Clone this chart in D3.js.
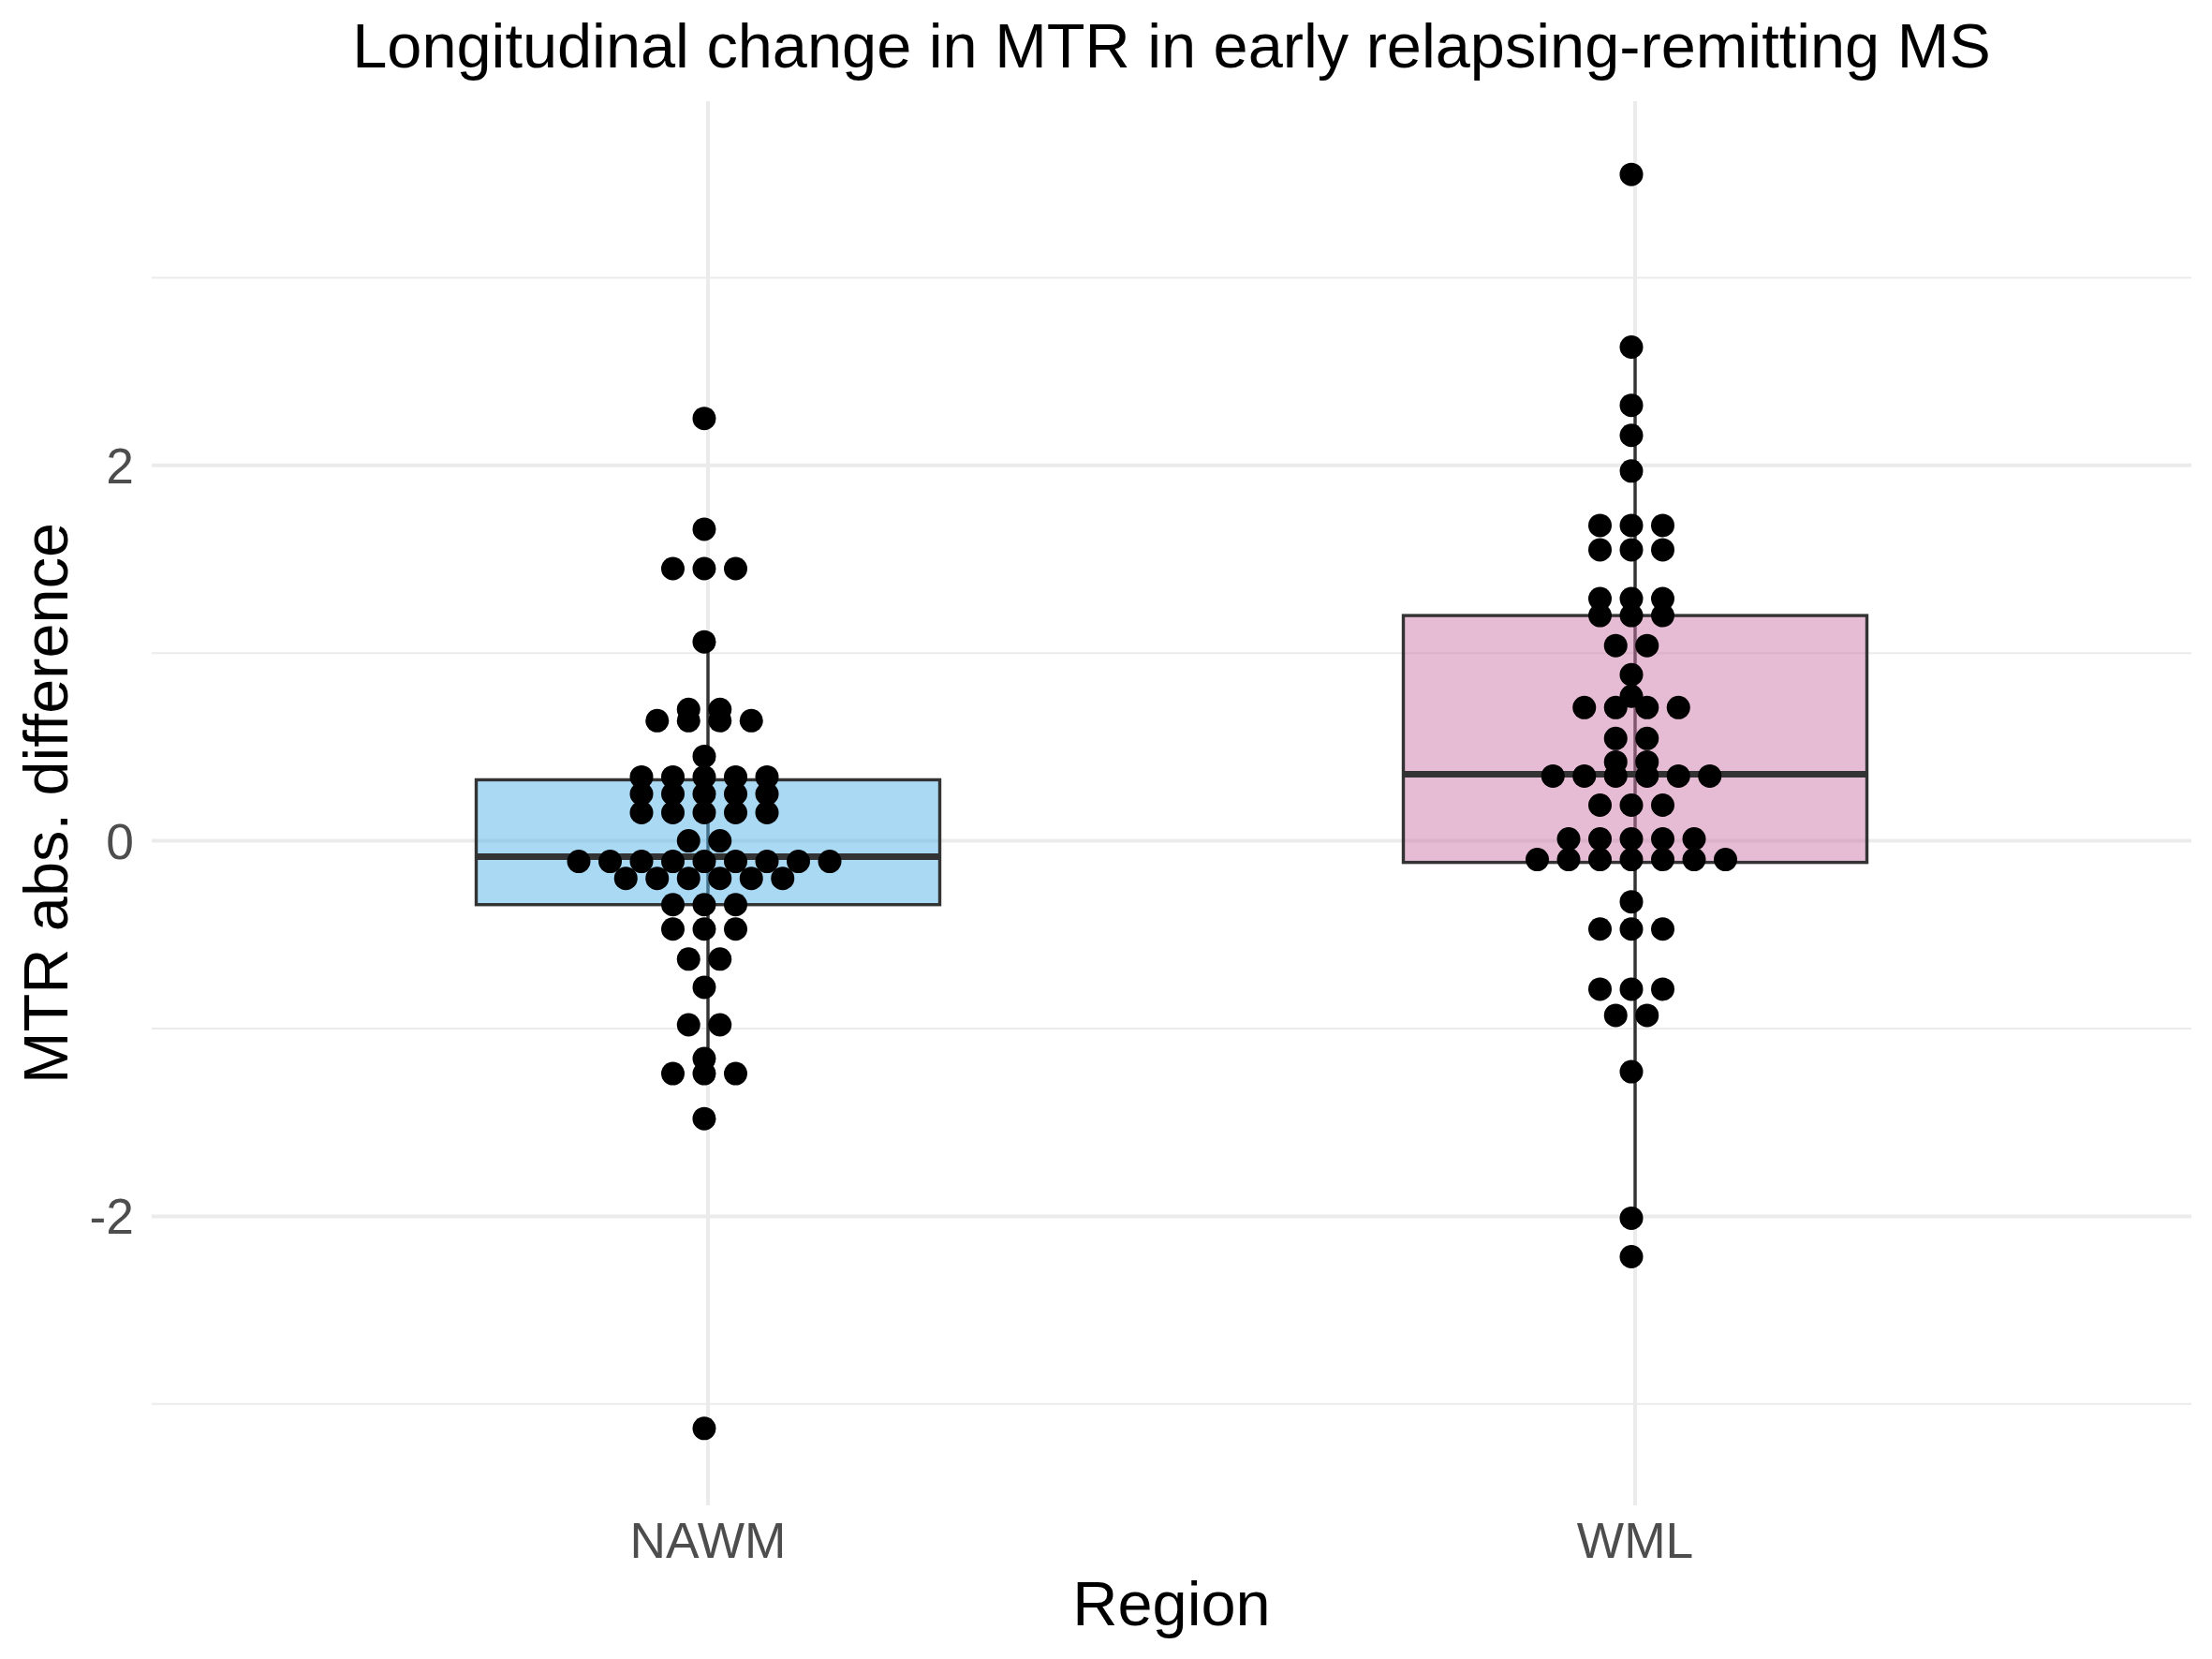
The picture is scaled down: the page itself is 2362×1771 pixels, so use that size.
<!DOCTYPE html>
<html>
<head>
<meta charset="utf-8">
<script src="https://cdn.jsdelivr.net/npm/d3@7"></script>
<style>
  body { margin: 0; background: #fff; }
  text { font-family: "Liberation Sans", Arial, sans-serif; }
</style>
</head>
<body>
<div id="chart"></div>
<script>
const WIDTH = 2362;
const HEIGHT = 1771;

// data (dotplot bin centres, one entry per dot)
const regions = ["NAWM", "WML"];
const nawmValues = [
  2.25, 1.66, 1.45, 1.45, 1.45, 1.06, 0.70, 0.70, 0.64, 0.64, 0.64, 0.64, 0.45,
  0.34, 0.34, 0.34, 0.34, 0.34, 0.25, 0.25, 0.25, 0.25, 0.25,
  0.15, 0.15, 0.15, 0.15, 0.15, 0.0, 0.0,
  -0.11, -0.11, -0.11, -0.11, -0.11, -0.11, -0.11, -0.11, -0.11,
  -0.20, -0.20, -0.20, -0.20, -0.20, -0.20,
  -0.34, -0.34, -0.34, -0.47, -0.47, -0.47, -0.63, -0.63, -0.78,
  -0.98, -0.98, -1.16, -1.24, -1.24, -1.24, -1.48, -3.13
];
const wmlValues = [
  3.55, 2.63, 2.32, 2.16, 1.97, 1.68, 1.68, 1.68, 1.55, 1.55, 1.55,
  1.29, 1.29, 1.29, 1.20, 1.20, 1.20, 1.04, 1.04, 0.885, 0.77,
  0.71, 0.71, 0.71, 0.71, 0.545, 0.545, 0.42, 0.42,
  0.345, 0.345, 0.345, 0.345, 0.345, 0.345, 0.19, 0.19, 0.19,
  0.01, 0.01, 0.01, 0.01, 0.01,
  -0.10, -0.10, -0.10, -0.10, -0.10, -0.10, -0.10,
  -0.325, -0.47, -0.47, -0.47, -0.79, -0.79, -0.79, -0.93, -0.93,
  -1.23, -2.01, -2.215
];
// box statistics: [lower whisker, q1, median, q3, upper whisker]
const nawmBox = [-1.22, -0.34, -0.085, 0.325, 1.06];
const wmlBox = [-2.01, -0.115, 0.355, 1.20, 2.63];
const fills = ["#56B4E9", "#CC79A7"];
const yMajor = [-2, 0, 2];
const yMinor = [-3, -1, 1, 3];

const groups = [
  {region: regions[0], values: nawmValues, box: nawmBox, fill: fills[0]},
  {region: regions[1], values: wmlValues, box: wmlBox, fill: fills[1]}
];

const panel = {left: 162, right: 2340, top: 108, bottom: 1607};

const x = d3.scalePoint()
    .domain(regions)
    .range([panel.left, panel.right])
    .padding(0.6);

const y = d3.scaleLinear()
    .domain([-3.54, 3.94])
    .range([panel.bottom, panel.top]);

const boxWidth = x.step() * 0.5;
const dotR = 12.5;
const dotStep = 33.5;

const svg = d3.select("#chart")
  .append("svg")
    .attr("width", WIDTH)
    .attr("height", HEIGHT)
    .style("background", "#fff");

// grid
svg.append("g").selectAll("line")
  .data(yMinor)
  .join("line")
    .attr("x1", panel.left).attr("x2", panel.right)
    .attr("y1", d => y(d)).attr("y2", d => y(d))
    .attr("stroke", "#EBEBEB").attr("stroke-width", 2);

svg.append("g").selectAll("line")
  .data(yMajor)
  .join("line")
    .attr("x1", panel.left).attr("x2", panel.right)
    .attr("y1", d => y(d)).attr("y2", d => y(d))
    .attr("stroke", "#EBEBEB").attr("stroke-width", 4);

svg.append("g").selectAll("line")
  .data(regions)
  .join("line")
    .attr("x1", d => x(d)).attr("x2", d => x(d))
    .attr("y1", panel.top).attr("y2", panel.bottom)
    .attr("stroke", "#EBEBEB").attr("stroke-width", 4);

// boxplots
const boxes = svg.append("g").selectAll("g")
  .data(groups)
  .join("g");

boxes.append("line")
    .attr("x1", d => x(d.region)).attr("x2", d => x(d.region))
    .attr("y1", d => y(d.box[0])).attr("y2", d => y(d.box[4]))
    .attr("stroke", "#333333").attr("stroke-width", 3.4);

boxes.append("rect")
    .attr("x", d => x(d.region) - boxWidth / 2)
    .attr("width", boxWidth)
    .attr("y", d => y(d.box[3]))
    .attr("height", d => y(d.box[1]) - y(d.box[3]))
    .attr("fill", d => d.fill)
    .attr("fill-opacity", 0.5)
    .attr("stroke", "#333333")
    .attr("stroke-width", 3.4);

boxes.append("line")
    .attr("x1", d => x(d.region) - boxWidth / 2).attr("x2", d => x(d.region) + boxWidth / 2)
    .attr("y1", d => y(d.box[2])).attr("y2", d => y(d.box[2]))
    .attr("stroke", "#333333").attr("stroke-width", 7);

// dotplot, stacks centred on each bin
groups.forEach(g => {
  const stacks = d3.rollups(g.values, v => v.length, v => v);
  const dots = [];
  stacks.forEach(([value, count]) => {
    for (let i = 0; i < count; i++) {
      dots.push({value: value, offset: i - (count - 1) / 2});
    }
  });
  svg.append("g").selectAll("circle")
    .data(dots)
    .join("circle")
      .attr("cx", d => x(g.region) - 4 + d.offset * dotStep)
      .attr("cy", d => y(d.value))
      .attr("r", dotR)
      .attr("fill", "#000");
});

// axis tick labels
svg.append("g").selectAll("text")
  .data(yMajor)
  .join("text")
    .attr("x", 143)
    .attr("y", d => y(d) + 19)
    .attr("text-anchor", "end")
    .attr("font-size", 53.3)
    .attr("fill", "#4D4D4D")
    .text(d => d);

svg.append("g").selectAll("text")
  .data(regions)
  .join("text")
    .attr("x", d => x(d))
    .attr("y", 1663)
    .attr("text-anchor", "middle")
    .attr("font-size", 53.3)
    .attr("fill", "#4D4D4D")
    .text(d => d);

// titles
svg.append("text")
    .attr("x", (panel.left + panel.right) / 2)
    .attr("y", 1735)
    .attr("text-anchor", "middle")
    .attr("font-size", 66.7)
    .attr("fill", "#000")
    .text("Region");

svg.append("text")
    .attr("transform", `translate(72,${(panel.top + panel.bottom) / 2}) rotate(-90)`)
    .attr("text-anchor", "middle")
    .attr("font-size", 66.7)
    .attr("fill", "#000")
    .text("MTR abs. difference");

svg.append("text")
    .attr("x", (panel.left + panel.right) / 2)
    .attr("y", 72)
    .attr("text-anchor", "middle")
    .attr("font-size", 66.7)
    .attr("fill", "#000")
    .text("Longitudinal change in MTR in early relapsing-remitting MS");
</script>
</body>
</html>
